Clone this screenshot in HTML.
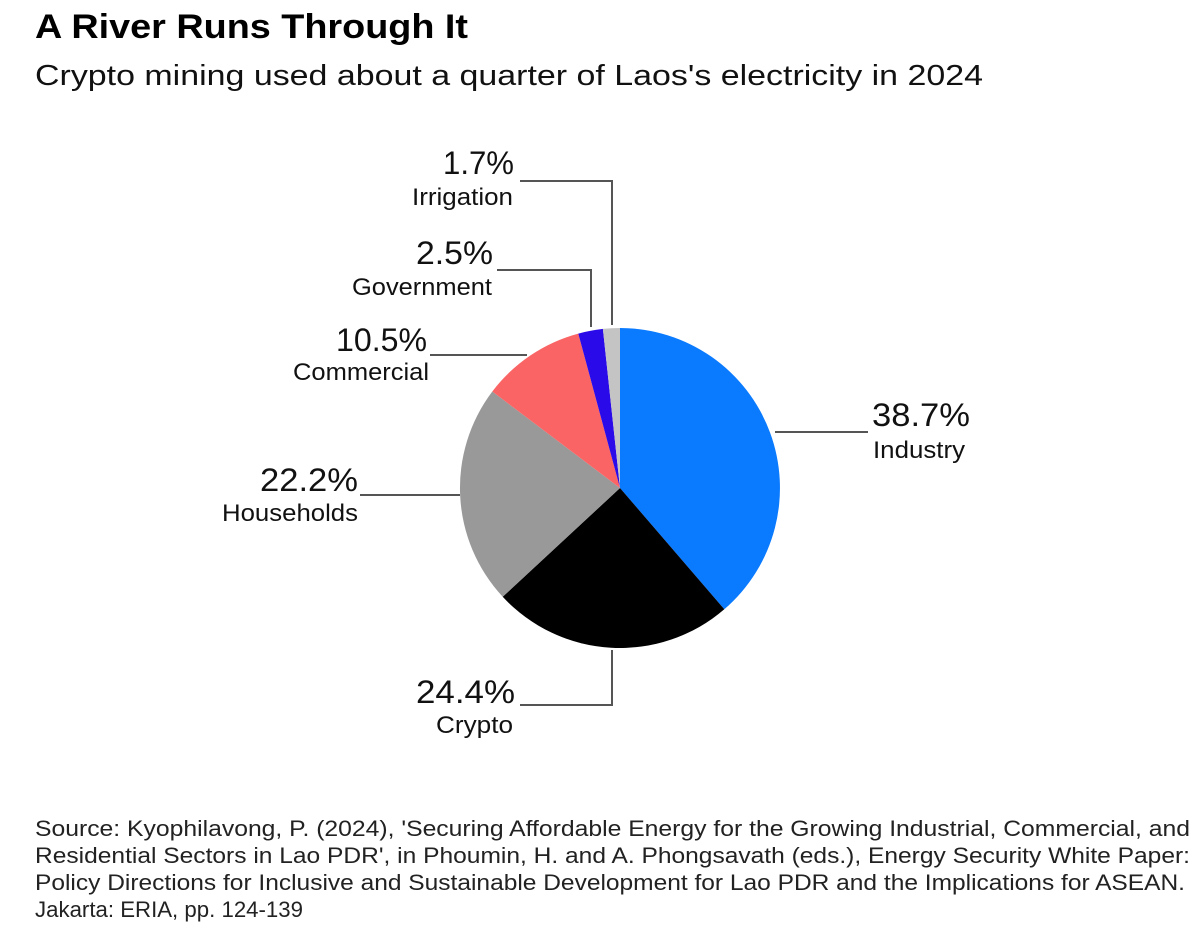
<!DOCTYPE html>
<html><head><meta charset="utf-8"><style>
body{margin:0;background:#fff;width:1200px;height:940px;overflow:hidden;font-family:"Liberation Sans",sans-serif;}
</style></head><body>
<svg width="1200" height="940" xmlns="http://www.w3.org/2000/svg" font-family="Liberation Sans, sans-serif">
<text x="35" y="38" font-size="34" font-weight="bold" fill="#000" textLength="433" lengthAdjust="spacingAndGlyphs">A River Runs Through It</text>
<text x="35" y="85" font-size="29" fill="#111" textLength="948" lengthAdjust="spacingAndGlyphs">Crypto mining used about a quarter of Laos's electricity in 2024</text>
<g stroke="none">
<path d="M620,488 L620,328 A160,160 0 0,1 724.3,609.3 Z" fill="#0a7aff"/>
<path d="M620,488 L724.3,609.3 A160,160 0 0,1 502.7,596.8 Z" fill="#000"/>
<path d="M620,488 L502.7,596.8 A160,160 0 0,1 492.3,391.5 Z" fill="#999"/>
<path d="M620,488 L492.3,391.5 A160,160 0 0,1 578.3,333.6 Z" fill="#fa6464"/>
<path d="M620,488 L578.3,333.6 A160,160 0 0,1 602.9,328.9 Z" fill="#2a0ae8"/>
<path d="M620,488 L602.9,328.9 A160,160 0 0,1 620,328 Z" fill="#c4c4c4"/>
</g>
<g stroke="#555" stroke-width="2" fill="none">
<polyline points="775,432 868,432"/>
<polyline points="612,650 612,705 520,705"/>
<polyline points="460,495 360,495"/>
<polyline points="527,355 430,355"/>
<polyline points="591,327 591,270 497,270"/>
<polyline points="612,325 612,181 520,181"/>
</g>
<g fill="#111">
<text x="872" y="426" font-size="32" textLength="98" lengthAdjust="spacingAndGlyphs">38.7%</text><text x="873" y="458" font-size="24" textLength="92" lengthAdjust="spacingAndGlyphs">Industry</text>
<text x="416" y="703" font-size="32" textLength="99" lengthAdjust="spacingAndGlyphs">24.4%</text><text x="436" y="733" font-size="24" textLength="77" lengthAdjust="spacingAndGlyphs">Crypto</text>
<text x="260" y="491" font-size="32" textLength="98" lengthAdjust="spacingAndGlyphs">22.2%</text><text x="222" y="521" font-size="24" textLength="136" lengthAdjust="spacingAndGlyphs">Households</text>
<text x="336" y="351" font-size="32" textLength="91" lengthAdjust="spacingAndGlyphs">10.5%</text><text x="293" y="380" font-size="24" textLength="136" lengthAdjust="spacingAndGlyphs">Commercial</text>
<text x="416" y="264" font-size="32" textLength="77" lengthAdjust="spacingAndGlyphs">2.5%</text><text x="352" y="295" font-size="24" textLength="140" lengthAdjust="spacingAndGlyphs">Government</text>
<text x="443" y="174" font-size="32" textLength="71" lengthAdjust="spacingAndGlyphs">1.7%</text><text x="412" y="205" font-size="24" textLength="101" lengthAdjust="spacingAndGlyphs">Irrigation</text>
</g>
<g fill="#222" font-size="22">
<text x="35" y="836" textLength="1155" lengthAdjust="spacingAndGlyphs">Source: Kyophilavong, P. (2024), 'Securing Affordable Energy for the Growing Industrial, Commercial, and</text>
<text x="35" y="863" textLength="1155" lengthAdjust="spacingAndGlyphs">Residential Sectors in Lao PDR', in Phoumin, H. and A. Phongsavath (eds.), Energy Security White Paper:</text>
<text x="35" y="890" textLength="1150" lengthAdjust="spacingAndGlyphs">Policy Directions for Inclusive and Sustainable Development for Lao PDR and the Implications for ASEAN.</text>
<text x="35" y="917" textLength="268" lengthAdjust="spacingAndGlyphs">Jakarta: ERIA, pp. 124-139</text>
</g>
</svg>
</body></html>
